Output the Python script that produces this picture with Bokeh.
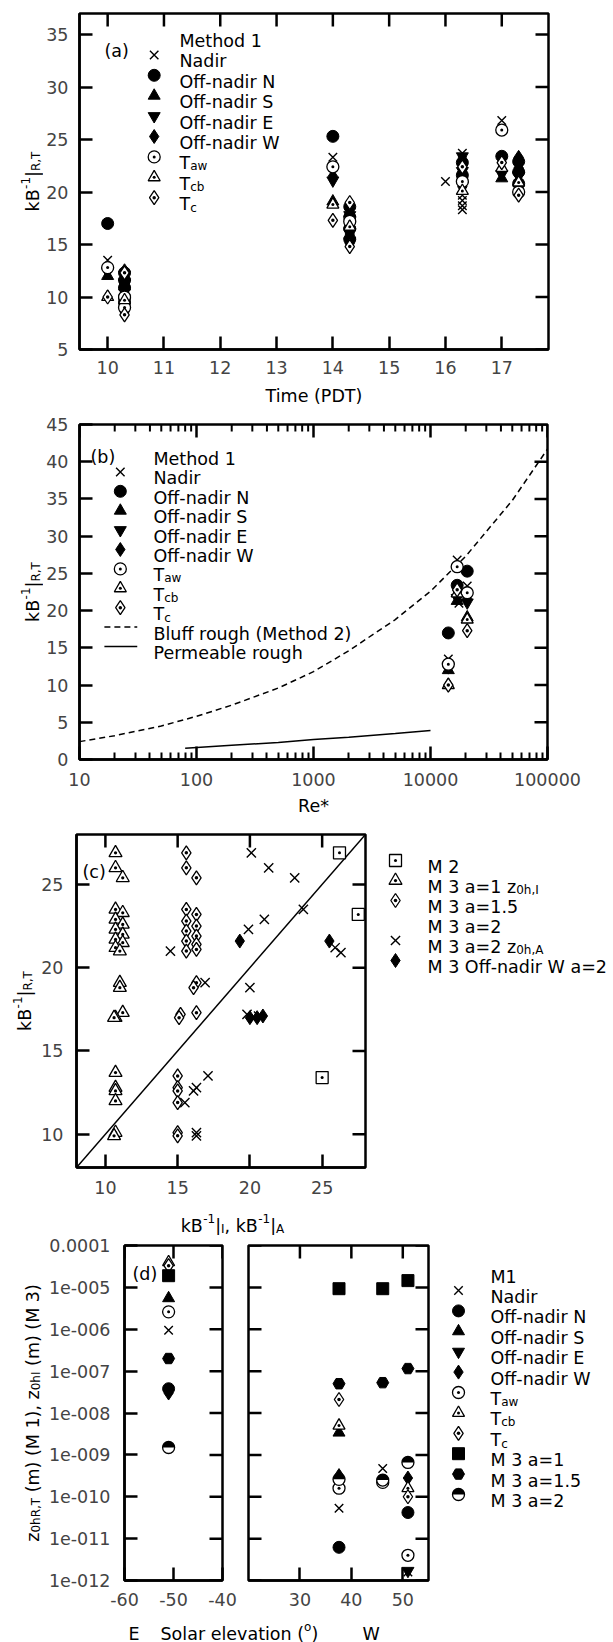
import math
from bokeh.plotting import figure
from bokeh.models import Label, FixedTicker, CustomJSTickFormatter, Range1d
from bokeh.layouts import column, row
from bokeh.embed import file_html
from bokeh.resources import INLINE

NaN = float("nan")

# ====================== DATA ======================
# panel (a)/(b): Method 1 values at the discrete times
a_disc_time = [10, 14, 16, 17]
b_disc_re = [14200, 20600, 17500, 16900]
a_nadir = [13.5, 23.3, 21.0, 26.8]
a_n = [17.0, 25.3, NaN, 23.4]
a_s = [12.0, 19.1, NaN, 21.3]
a_e = [12.4, 21.1, NaN, 21.7]
a_w = [12.6, 21.5, NaN, 22.0]
a_taw = [12.8, 22.4, NaN, 25.9]
a_tcb = [10.0, 18.8, NaN, 22.3]
a_tc = [10.0, 17.3, NaN, 22.8]

# panel (a): stacked columns
a_col_time = [10.3, 14.3, 16.3, 17.3]
a_col_nadir = [[11.2, 10.4, 9.3, 8.8], [18.2, 17.0, 15.8], [23.7, 20.3, 19.7, 19.2, 18.7, 18.3], [22.5, 21.2]]
a_col_n = [[12.3, 11.6, 10.9, 10.0, 9.5], [18.6, 17.6, 16.5, 15.5], [22.8, 21.6], [22.9, 21.9, 20.8]]
a_col_s = [[11.9, 11.0, 10.2], [18.0, 16.9], [21.2], [22.2]]
a_col_e = [[12.1, 11.4, 10.6, 9.8], [17.8, 16.2, 15.3], [23.4, 22.0], [21.5, 20.4]]
a_col_w = [[12.5, 11.8, 11.3, 10.7, 10.1, 9.6, 9.0, 8.6],
           [18.8, 18.4, 17.9, 17.3, 16.8, 16.0, 15.6, 15.1],
           [23.0, 22.6, 21.9, 21.4, 20.9, 20.5],
           [23.3, 22.7, 22.3, 21.7, 21.0, 20.6, 20.1]]
a_col_taw = [[10.0, 9.0], [17.2], [21.0], [20.0]]
a_col_tcb = [[9.7], [16.7], [20.1], [20.9]]
a_col_tc = [[8.3, 12.3], [19.0, 14.8], [22.4], [19.7]]

# panel (b): model curves
b_bluff_re = [10, 20, 50, 100, 200, 500, 1000, 2000, 5000, 10000, 20000, 50000, 100000]
b_bluff_kb = [2.4, 3.2, 4.5, 5.8, 7.3, 9.6, 11.8, 14.6, 18.8, 22.6, 27.3, 34.8, 41.7]
b_perm_re = [80, 200, 500, 1000, 2000, 5000, 10000]
b_perm_kb = [1.5, 1.9, 2.3, 2.7, 3.0, 3.5, 3.9]

# panel (c)
c_one_to_one = [8, 28]
c_m2_x = [26.2, 27.5, 25.0]
c_m2_y = [26.9, 23.2, 13.4]
c_a1_x = [10.7, 10.7, 11.2, 10.7, 11.2, 10.7, 11.2, 10.7, 11.2, 10.7, 11.2, 10.7, 11.0, 11.0, 11.0, 11.2,
          10.7, 10.6, 10.7, 10.7, 10.7, 10.7, 10.7, 10.6]
c_a1_y = [26.9, 26.0, 25.4, 23.5, 23.3, 22.9, 22.6, 22.3, 22.0, 21.7, 21.5, 21.2, 21.0, 19.1, 18.8, 17.3,
          17.0, 17.0, 13.7, 12.8, 12.6, 12.0, 10.1, 9.9]
c_a15_x = [15.6, 15.6, 16.3, 15.6, 16.3, 15.6, 16.3, 15.6, 16.3, 15.6, 16.3, 15.6, 16.3, 16.3, 16.1, 15.2,
           15.1, 16.3, 15.0, 15.0, 15.0, 15.0, 15.0, 15.0]
c_a15_y = [26.9, 26.0, 25.4, 23.5, 23.2, 22.8, 22.5, 22.2, 21.9, 21.6, 21.4, 21.0, 21.1, 19.1, 18.8, 17.2,
           17.0, 17.3, 13.5, 12.8, 12.6, 11.9, 10.1, 9.9]
c_a2_x = [20.7, 20.7, 21.6, 20.7, 21.6, 20.7, 21.6, 20.7, 21.6, 20.7, 21.6, 20.7, 21.6, 21.6, 21.6, 21.6,
          20.0, 20.0, 20.0, 20.0, 20.0, 20.0]
c_a2_y = [26.9, 26.0, 25.4, 23.5, 23.2, 22.9, 22.6, 22.3, 22.2, 21.7, 21.5, 21.1, 20.9, 19.1, 18.7, 17.3,
          13.4, 12.8, 12.6, 11.7, 10.1, 9.9]
c_a2A_x = [20.1, 21.3, 23.1, 23.7, 21.0, 19.9, 14.5, 25.9, 26.3, 16.9, 20.0, 19.8, 20.3, 20.6,
           17.1, 16.3, 16.1, 15.5, 16.3, 16.3]
c_a2A_y = [26.9, 26.0, 25.4, 23.5, 22.9, 22.3, 21.0, 21.2, 20.9, 19.1, 18.8, 17.2, 17.0, 17.1,
           13.5, 12.8, 12.6, 11.9, 10.1, 9.9]
c_w_x = [19.3, 25.5, 20.0, 20.5, 20.9]
c_w_y = [21.6, 21.6, 17.0, 17.0, 17.1]

# panel (d)
d_elev = [-51.0, 37.6, 46.1, 51.0]
d_nadir = [9.5e-7, 5.3e-11, 4.7e-10, 1.6e-12]
d_n = [3.8e-8, 6.2e-12, NaN, 4.2e-11]
d_s = [5.5e-6, 3.4e-9, NaN, NaN]
d_e = [NaN, NaN, NaN, 1.7e-12]
d_w = [3.0e-8, 3.2e-10, NaN, 2.8e-10]
d_taw = [2.6e-6, 1.6e-10, 2.2e-10, 4.0e-12]
d_tcb = [4.0e-5, 5.0e-9, NaN, 1.6e-10]
d_tc = [3.3e-5, 2.1e-8, NaN, 1.0e-10]
d_m3a1 = [1.9e-5, 9.3e-6, 9.3e-6, 1.45e-5]
d_m3a15 = [2.0e-7, 5.0e-8, 5.3e-8, 1.15e-7]
d_m3a2 = [1.5e-9, 2.6e-10, 2.5e-10, 6.6e-10]

# ticks and tick labels
a_xticks = [10, 11, 12, 13, 14, 15, 16, 17]
a_xlabels = ["10", "11", "12", "13", "14", "15", "16", "17"]
a_yticks = [5, 10, 15, 20, 25, 30, 35]
a_ylabels = ["5", "10", "15", "20", "25", "30", "35"]
b_xticks = [10, 100, 1000, 10000, 100000]
b_xlabels = ["10", "100", "1000", "10000", "100000"]
b_yticks = [0, 5, 10, 15, 20, 25, 30, 35, 40, 45]
b_ylabels = ["0", "5", "10", "15", "20", "25", "30", "35", "40", "45"]
c_ticks = [10, 15, 20, 25]
c_labels = ["10", "15", "20", "25"]
d_yticks = [1e-4, 1e-5, 1e-6, 1e-7, 1e-8, 1e-9, 1e-10, 1e-11, 1e-12]
d_ylabels = ["0.0001", "1e-005", "1e-006", "1e-007", "1e-008", "1e-009", "1e-010", "1e-011", "1e-012"]
d1_xticks = [-60, -50, -40]
d1_xlabels = ["-60", "-50", "-40"]
d2_xticks = [30, 40, 50]
d2_xlabels = ["30", "40", "50"]

# ====================== STYLE ======================
FONT = "DejaVu Sans"
FS = 17.5
SFS = 12.0
SUP = 7.0
SUB = -3.5
LW = 2.5
TICK = 13

EM = {' ': .318, '(': .390, ')': .390, ',': .318, '-': .361, '.': .318, '=': .838, '|': .337, '*': .5,
      'A': .684, 'B': .686, 'C': .698, 'D': .770, 'E': .632, 'I': .295, 'M': .863, 'N': .748, 'O': .787,
      'P': .603, 'R': .695, 'S': .635, 'T': .611, 'W': .989,
      'a': .613, 'b': .635, 'c': .550, 'd': .635, 'e': .615, 'f': .352, 'g': .635, 'h': .634, 'i': .278,
      'l': .278, 'm': .974, 'n': .634, 'o': .612, 'p': .635, 'r': .411, 's': .521, 't': .392, 'u': .634,
      'v': .592, 'w': .818, 'x': .592, 'y': .592, 'z': .525}
for _d in "0123456789":
    EM[_d] = .636


def tw(s, fs):
    return sum(EM.get(ch, 0.6) for ch in s) * fs


def rich(p, frame, pieces, px, py, align="left", rotated=False):
    """Compose a text from pieces (text, size, baseline shift) placed at a page position."""
    fl, fb = frame
    total = sum(tw(t, s) for t, s, d in pieces)
    cum = {"left": 0.0, "center": -total / 2.0, "right": -total}[align]
    for t, s, d in pieces:
        lead = len(t) - len(t.lstrip(" "))
        cum += tw(" " * lead, s)
        t2 = t.lstrip(" ")
        if rotated:
            sx, sy, ang = px - fl - d, fb - py + cum, math.pi / 2
        else:
            sx, sy, ang = px - fl + cum, fb - py + d, 0.0
        p.add_layout(Label(x=sx, y=sy, x_units="screen", y_units="screen", text=t2, angle=ang,
                           text_font=FONT, text_font_size=f"{s}px", text_color="black",
                           text_align="left", text_baseline="alphabetic"))
        cum += tw(t2, s)


JS = """
for (let i = 0; i < vals.length; i++) {
  const v = vals[i];
  if (v === tick || Math.abs(v - tick) <= 1e-6 * Math.abs(v)) return labs[i];
}
return "";
"""


def no_align(p):
    try:
        p.frame_align = False
    except Exception:
        pass


def make(fig_rect, frame, xr, yr, xt="linear", yt="linear", yaxis=True):
    x0, y0, x1, y1 = fig_rect
    l, t, r, b = frame
    kw = dict(width=x1 - x0, height=y1 - y0, x_range=xr, y_range=yr, x_axis_type=xt, y_axis_type=yt,
              output_backend="svg", toolbar_location=None, title=None,
              min_border_left=l - x0, min_border_right=x1 - r, min_border_top=t - y0, min_border_bottom=y1 - b)
    if not yaxis:
        kw["y_axis_location"] = None
    p = figure(**kw)
    no_align(p)
    p.grid.visible = False
    p.background_fill_color = "white"
    p.border_fill_color = "white"
    p.outline_line_color = "black"
    p.outline_line_width = LW
    return p


def blank(fig_rect):
    x0, y0, x1, y1 = fig_rect
    p = figure(width=x1 - x0, height=y1 - y0, x_range=Range1d(0, x1 - x0), y_range=Range1d(0, y1 - y0),
               output_backend="svg", toolbar_location=None, x_axis_location=None, y_axis_location=None,
               title=None, min_border=0,
               min_border_left=0, min_border_right=0, min_border_top=0, min_border_bottom=0)
    no_align(p)
    p.grid.visible = False
    p.outline_line_color = None
    p.background_fill_color = "white"
    p.border_fill_color = "white"
    return p, (x0, y1)


def setup_axis(ax, ticks, labels, standoff, minor=None, title=None, title_standoff=8):
    ax.ticker = FixedTicker(ticks=ticks, minor_ticks=minor or [])
    ax.formatter = CustomJSTickFormatter(args=dict(vals=ticks, labs=labels), code=JS)
    ax.axis_line_width = LW
    ax.major_tick_in = TICK
    ax.major_tick_out = 0
    ax.major_tick_line_width = LW
    ax.minor_tick_in = 7
    ax.minor_tick_out = 0
    ax.minor_tick_line_width = 2
    ax.major_label_standoff = standoff
    ax.major_label_text_font = FONT
    ax.major_label_text_font_size = f"{FS}px"
    if title:
        ax.axis_label = title
        ax.axis_label_text_font = FONT
        ax.axis_label_text_font_size = f"{FS}px"
        ax.axis_label_text_font_style = "normal"
        ax.axis_label_text_color = "black"
        ax.axis_label_standoff = title_standoff
    else:
        ax.axis_label = None


def top_ticks(p, xs, yedge, size=2 * TICK, lw=LW):
    p.scatter(x=xs, y=[yedge] * len(xs), marker="dash", size=size, angle=math.pi / 2,
              line_color="black", line_width=lw)


def side_ticks(p, ys, xedge, size=2 * TICK, lw=LW):
    p.scatter(x=[xedge] * len(ys), y=ys, marker="dash", size=size, line_color="black", line_width=lw)


OPEN = dict(fill_color="white", line_color="black", line_width=1.3)
FILL = dict(fill_color="black", line_color="black", line_width=1)
M1_STYLE = [
    dict(marker="x", size=12, line_color="black", line_width=1.4),
    dict(marker="circle", size=12, **FILL),
    dict(marker="triangle", size=12, **FILL),
    dict(marker="inverted_triangle", size=12, **FILL),
    dict(marker="diamond", size=14, **FILL),
    dict(marker="circle_dot", size=12, **OPEN),
    dict(marker="triangle_dot", size=12, **OPEN),
    dict(marker="diamond_dot", size=14, **OPEN),
]
M1_TEXT = [[("Nadir", FS, 0)], [("Off-nadir N", FS, 0)], [("Off-nadir S", FS, 0)], [("Off-nadir E", FS, 0)],
           [("Off-nadir W", FS, 0)], [("T", FS, 0), ("aw", SFS, -3)], [("T", FS, 0), ("cb", SFS, -3)],
           [("T", FS, 0), ("c", SFS, -4)]]
KB_RT = [("kB", FS, 0), ("-1", SFS, SUP), ("|", FS, 0), ("R,T", SFS, SUB)]


def lin_data(frame, xr, yr, px, py, xlog=False):
    l, t, r, b = frame
    fx = (px - l) / (r - l)
    fy = (b - py) / (b - t)
    if xlog:
        x = 10 ** (math.log10(xr[0]) + fx * (math.log10(xr[1]) - math.log10(xr[0])))
    else:
        x = xr[0] + fx * (xr[1] - xr[0])
    return x, yr[0] + fy * (yr[1] - yr[0])


def inner_legend(p, frame, xr, yr, mx, tx, y0, dy, xlog=False):
    fr = (frame[0], frame[3])
    rich(p, fr, [("Method 1", FS, 0)], tx, y0 + 6.4)
    for i, (st, txt) in enumerate(zip(M1_STYLE, M1_TEXT)):
        yy = y0 + dy * (i + 1)
        x, y = lin_data(frame, xr, yr, mx, yy, xlog)
        p.scatter(x=[x], y=[y], **st)
        rich(p, fr, txt, tx, yy + 6.4)
    return y0 + dy * (len(M1_STYLE) + 1)


a_disc = [a_nadir, a_n, a_s, a_e, a_w, a_taw, a_tcb, a_tc]
a_cols = [a_col_nadir, a_col_n, a_col_s, a_col_e, a_col_w, a_col_taw, a_col_tcb, a_col_tc]

# ====================== PANEL (a) ======================
FA = (77, 13, 548, 349)
AX = (9.5, 17.83)
AY = (5, 37)
pa = make((43, 0, 613, 413), FA, Range1d(*AX), Range1d(*AY))
setup_axis(pa.xaxis[0], a_xticks, a_xlabels, 11, title="Time (PDT)", title_standoff=9)
setup_axis(pa.yaxis[0], a_yticks, a_ylabels, 11)
top_ticks(pa, a_xticks, AY[1])
side_ticks(pa, a_yticks, AX[1])
for disc, cols, st in zip(a_disc, a_cols, M1_STYLE):
    xs = list(a_disc_time)
    ys = list(disc)
    for tt, vals in zip(a_col_time, cols):
        xs += [tt] * len(vals)
        ys += vals
    pa.scatter(x=xs, y=ys, **st)
inner_legend(pa, FA, AX, AY, 152, 177, 34, 20.4)
rich(pa, (FA[0], FA[3]), [("(a)", FS, 0)], 102, 50.5)

ya_lab, fr = blank((0, 0, 43, 413))
rich(ya_lab, fr, KB_RT, 32, 181, align="center", rotated=True)

# ====================== PANEL (b) ======================
FB = (77, 424, 547, 759)
BX = (10, 100000)
BY = (0, 45)
pb = make((43, 413, 613, 823), FB, Range1d(*BX), Range1d(*BY), xt="log")
b_minor = [m * 10 ** k for k in range(1, 5) for m in range(2, 10)]
setup_axis(pb.xaxis[0], b_xticks, b_xlabels, 13, minor=b_minor, title="Re*", title_standoff=7)
setup_axis(pb.yaxis[0], b_yticks, b_ylabels, 11)
top_ticks(pb, b_xticks, BY[1])
top_ticks(pb, b_minor, BY[1], size=14, lw=2)
side_ticks(pb, b_yticks, BX[1])
pb.line(x=b_bluff_re, y=b_bluff_kb, line_color="black", line_width=1.5, line_dash="6 4")
pb.line(x=b_perm_re, y=b_perm_kb, line_color="black", line_width=1.5)
for disc, st in zip(a_disc, M1_STYLE):
    pb.scatter(x=b_disc_re, y=disc, **st)
yb = inner_legend(pb, FB, BX, BY, 118, 151, 452, 19.4, xlog=True)
frb = (FB[0], FB[3])
for k, (dash, txt) in enumerate([("6 4", "Bluff rough (Method 2)"), ("solid", "Permeable rough")]):
    yy = yb + 19.4 * k
    xa, ya = lin_data(FB, BX, BY, 102, yy, True)
    xb, _ = lin_data(FB, BX, BY, 135, yy, True)
    pb.line(x=[xa, xb], y=[ya, ya], line_color="black", line_width=1.5, line_dash=dash)
    rich(pb, frb, [(txt, FS, 0)], 151, yy + 6.4)
rich(pb, frb, [("(b)", FS, 0)], 88, 456.5)

yb_lab, fr = blank((0, 413, 43, 823))
rich(yb_lab, fr, KB_RT, 32, 591.5, align="center", rotated=True)

# ====================== PANEL (c) ======================
FC = (76, 834, 365, 1167)
CX = (8, 28)
pc = make((38, 823, 380, 1202), FC, Range1d(*CX), Range1d(*CX))
setup_axis(pc.xaxis[0], c_ticks, c_labels, 13)
setup_axis(pc.yaxis[0], c_ticks, c_labels, 13)
top_ticks(pc, c_ticks, CX[1])
side_ticks(pc, c_ticks, CX[1])
pc.line(x=c_one_to_one, y=c_one_to_one, line_color="black", line_width=1.5)
C_STYLE = [
    dict(marker="square_dot", size=12, **OPEN),
    dict(marker="triangle_dot", size=13, **OPEN),
    dict(marker="diamond_dot", size=14, **OPEN),
    dict(marker="inverted_triangle_dot", size=13, **OPEN),
    dict(marker="x", size=13, line_color="black", line_width=1.4),
    dict(marker="diamond", size=14, **FILL),
]
C_DATA = [(c_m2_x, c_m2_y), (c_a1_x, c_a1_y), (c_a15_x, c_a15_y), (c_a2_x, c_a2_y),
          (c_a2A_x, c_a2A_y), (c_w_x, c_w_y)]
for (xs, ys), st in zip(C_DATA, C_STYLE):
    pc.scatter(x=xs, y=ys, **st)
rich(pc, (FC[0], FC[3]), [("(c)", FS, 0)], 82, 871.5)

yc_lab, fr = blank((0, 823, 38, 1202))
rich(yc_lab, fr, KB_RT, 24, 1000.5, align="center", rotated=True)

lc, fr = blank((380, 823, 613, 1202))
C_TEXT = [[("M 2", FS, 0)], [("M 3 a=1 z", FS, 0), ("0h,I", SFS, SUB)], [("M 3 a=1.5", FS, 0)],
          [("M 3 a=2", FS, 0)], [("M 3 a=2 z", FS, 0), ("0h,A", SFS, SUB)], [("M 3 Off-nadir W a=2", FS, 0)]]
for i, (st, txt) in enumerate(zip(C_STYLE, C_TEXT)):
    yy = 860 + 20 * i
    lc.scatter(x=[395 - fr[0]], y=[fr[1] - yy], **st)
    rich(lc, fr, txt, 427, yy + 6.4)

xc_lab, fr = blank((0, 1202, 613, 1235))
rich(xc_lab, fr, [("kB", FS, 0), ("-1", SFS, SUP), ("|", FS, 0), ("I", SFS, SUB), (", kB", FS, 0),
                  ("-1", SFS, SUP), ("|", FS, 0), ("A", SFS, SUB)], 232, 1225, align="center")

# ====================== PANEL (d) ======================
FD1 = (124, 1245, 222, 1580)
FD2 = (248, 1245, 428, 1580)
DY = (1e-12, 1e-4)
D1X = (-60, -40)
D2X = (20, 55)
pd1 = make((45, 1235, 237, 1614), FD1, Range1d(*D1X), Range1d(*DY), yt="log")
pd2 = make((237, 1235, 443, 1614), FD2, Range1d(*D2X), Range1d(*DY), yt="log", yaxis=False)
setup_axis(pd1.xaxis[0], d1_xticks, d1_xlabels, 12)
setup_axis(pd1.yaxis[0], d_yticks, d_ylabels, 14)
setup_axis(pd2.xaxis[0], d2_xticks, d2_xlabels, 12)
top_ticks(pd1, d1_xticks, DY[1])
side_ticks(pd1, d_yticks, D1X[1])
top_ticks(pd2, d2_xticks, DY[1])
side_ticks(pd2, d_yticks, D2X[0])
side_ticks(pd2, d_yticks, D2X[1])

D_STYLE = M1_STYLE + [
    dict(marker="square", size=12, **FILL),
    dict(marker="hex", size=12, **FILL),
    dict(marker="circle", size=12, **OPEN),
]
D_DATA = [d_nadir, d_n, d_s, d_e, d_w, d_taw, d_tcb, d_tc, d_m3a1, d_m3a15, d_m3a2]


def half_circle(p, xs, ys):
    p.wedge(x=xs, y=ys, radius=6, radius_units="screen", start_angle=0, end_angle=math.pi,
            fill_color="black", line_color=None)


for pdx in (pd1, pd2):
    for vals, st in zip(D_DATA, D_STYLE):
        pdx.scatter(x=d_elev, y=vals, **st)
    half_circle(pdx, d_elev, d_m3a2)
rich(pd1, (FD1[0], FD1[3]), [("(d)", FS, 0)], 132, 1273.5)

yd_lab, fr = blank((0, 1235, 45, 1614))
rich(yd_lab, fr, [("z", FS, 0), ("0hR,T", SFS, SUB), (" (m) (M 1), z", FS, 0), ("0hI", SFS, SUB),
                  (" (m) (M 3)", FS, 0)], 32, 1412.5, align="center", rotated=True)

ld, fr = blank((443, 1235, 613, 1614))
rich(ld, fr, [("M1", FS, 0)], 490, 1270 + 6.4)
D_TEXT = M1_TEXT + [[("M 3 a=1", FS, 0)], [("M 3 a=1.5", FS, 0)], [("M 3 a=2", FS, 0)]]
for i, (st, txt) in enumerate(zip(D_STYLE, D_TEXT)):
    yy = 1290 + 20.4 * i
    ld.scatter(x=[458 - fr[0]], y=[fr[1] - yy], **st)
    if i == len(D_STYLE) - 1:
        half_circle(ld, [458 - fr[0]], [fr[1] - yy])
    rich(ld, fr, txt, 490, yy + 6.4)

xd_lab, fr = blank((0, 1614, 613, 1642))
rich(xd_lab, fr, [("E", FS, 0)], 128, 1633)
rich(xd_lab, fr, [("Solar elevation (", FS, 0), ("o", SFS, SUP), (")", FS, 0)], 160, 1633)
rich(xd_lab, fr, [("W", FS, 0)], 362, 1633)

layout = column(
    row(ya_lab, pa),
    row(yb_lab, pb),
    row(yc_lab, pc, lc), xc_lab,
    row(yd_lab, pd1, pd2, ld), xd_lab,
)
open("out.html", "w").write(file_html(layout, INLINE))
